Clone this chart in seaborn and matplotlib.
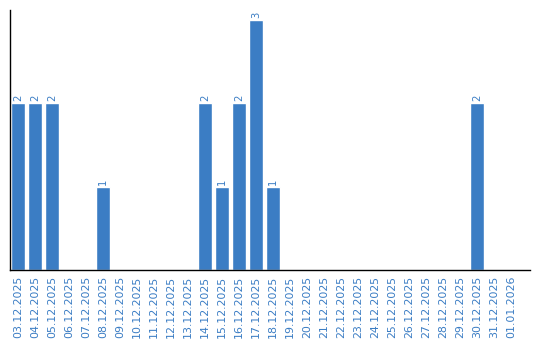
import matplotlib
matplotlib.use("Agg")
import matplotlib.pyplot as plt
import seaborn as sns
import pandas as pd

dates = ["03.12.2025", "04.12.2025", "05.12.2025", "06.12.2025", "07.12.2025",
         "08.12.2025", "09.12.2025", "10.12.2025", "11.12.2025", "12.12.2025",
         "13.12.2025", "14.12.2025", "15.12.2025", "16.12.2025", "17.12.2025",
         "18.12.2025", "19.12.2025", "20.12.2025", "21.12.2025", "22.12.2025",
         "23.12.2025", "24.12.2025", "25.12.2025", "26.12.2025", "27.12.2025",
         "28.12.2025", "29.12.2025", "30.12.2025", "31.12.2025", "01.01.2026"]
counts = [2, 2, 2, 0, 0, 1, 0, 0, 0, 0, 0, 2, 1, 2, 3, 1, 0, 0, 0, 0,
          0, 0, 0, 0, 0, 0, 0, 2, 0, 0]

BLUE = "#3b7dc4"
sns.set_theme(style="white")
plt.rcParams['font.family'] = ['DejaVu Sans']

df = pd.DataFrame({"date": dates, "count": counts})
fig = plt.figure(figsize=(5.4, 3.4), dpi=100)
ax = fig.add_axes([10/540, 70/340, 520/540, 260/340])
sns.barplot(data=df, x="date", y="count", color=BLUE, saturation=1,
            width=0.82, ax=ax)
ax.set_xlim(-0.47, 30.12)
ax.set_ylim(0, 3.12)
for p, v in zip(ax.patches, counts):
    if v > 0:
        ax.annotate(str(v), (p.get_x() + p.get_width() / 2, p.get_height()),
                    xytext=(0, 1.5), textcoords="offset points",
                    ha="center", va="bottom", rotation=90,
                    color=BLUE, fontsize=7.2)
ax.set_xlabel("")
ax.set_ylabel("")
ax.set_yticks([])
ax.tick_params(axis="x", length=0, pad=4, labelsize=7.9, labelcolor=BLUE,
               rotation=90)
for s in ["top", "right"]:
    ax.spines[s].set_visible(False)
for s in ["left", "bottom"]:
    ax.spines[s].set_visible(True)
    ax.spines[s].set_color("black")
    ax.spines[s].set_linewidth(1.0)
fig.savefig("out.png", dpi=100)
